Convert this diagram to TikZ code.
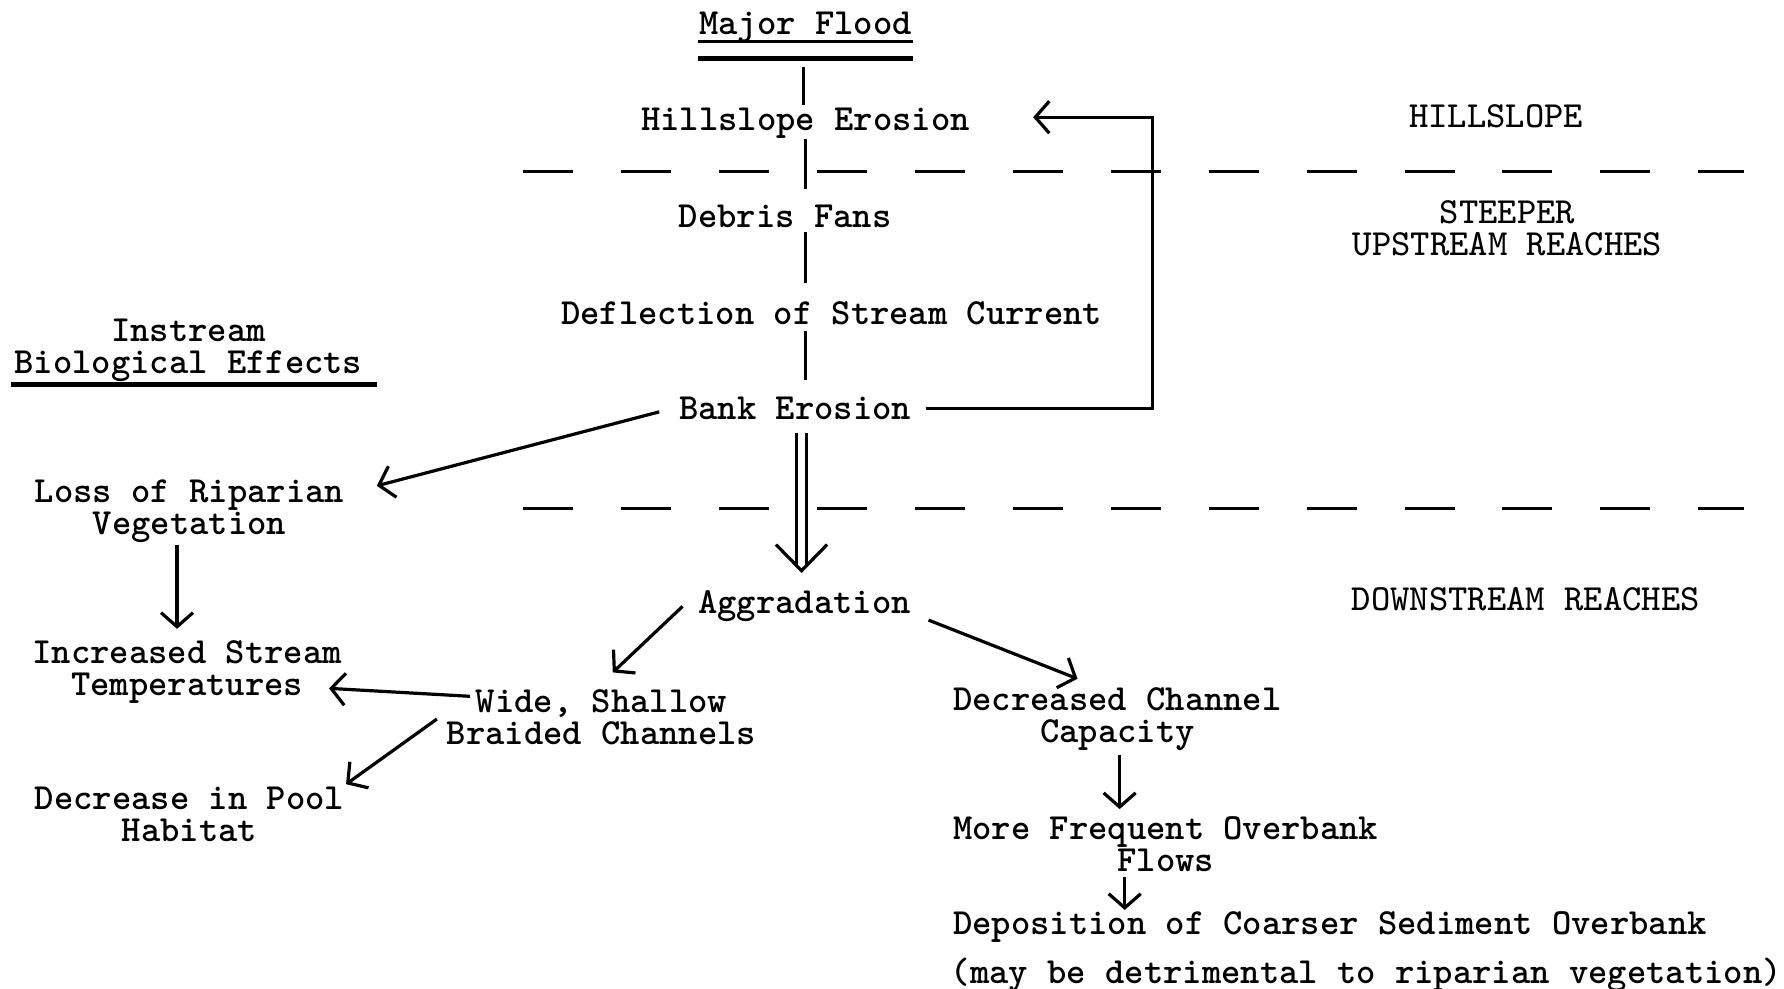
\documentclass[tikz,border=0pt]{standalone}
\usepackage{tikz}
\usetikzlibrary{calc,arrows.meta}

\begin{document}
\begin{tikzpicture}[x=0.01cm, y=-0.01cm,
  txt/.style={inner sep=0pt, align=center, font={\ttfamily\bfseries\fontsize{9.2pt}{8pt}\selectfont}},
  zone/.style={inner sep=0pt, align=center, font={\ttfamily\fontsize{9.2pt}{8pt}\selectfont}},
  arrow/.style={-{Straight Barb[length=3.5pt,width=8pt]}, thick},
  link/.style={thick},
  cut/.style={thick, dash pattern=on 0.44cm off 0.42cm}
]
\useasboundingbox (0,0) rectangle (1568,869);
\coordinate (spine) at (708,0);

\node[txt] (maj) at (708,24) {Major Flood};
\node[txt] (hill) at (708,108) {Hillslope Erosion};
\node[txt] (debris) at (690,190) {Debris Fans};
\node[txt] (defl) at (731,275) {Deflection of Stream Current};
\node[txt] (bank) at (699,359) {Bank Erosion};
\node[txt] (aggr) at (707,533) {Aggradation};
\node[txt,anchor=west] (bio) at (12,308) {Instream\\Biological Effects};
\node[txt,anchor=west] (loss) at (30,449) {Loss of Riparian\\Vegetation};
\node[txt,anchor=west] (incr) at (28,591) {Increased Stream\\Temperatures};
\node[txt,anchor=west] (pool) at (30,716) {Decrease in Pool\\Habitat};
\node[txt,anchor=west] (wide) at (392,630) {Wide, Shallow\\Braided Channels};
\node[txt,anchor=west] (decr) at (837,632) {Decreased Channel\\Capacity};
\node[txt,anchor=west] (more) at (837,742) {More Frequent Overbank\\Flows};
\node[txt,anchor=west] (depo) at (837,815) {Deposition of Coarser Sediment Overbank};
\node[txt,anchor=west] (note) at (835,857) {(may be detrimental to riparian vegetation)};
\node[zone] (hslope) at (1315,102) {HILLSLOPE};
\node[zone] (upper) at (1325,201) {STEEPER\\UPSTREAM REACHES};
\node[zone] (lower) at (1341,527) {DOWNSTREAM REACHES};

\draw[cut] (460,151) -- (1533,151);
\draw[cut] (460,447) -- (1533,447);

\draw[thick] ($(maj.south west)+(0,-2)$) -- ($(maj.south east)+(0,-2)$);
\draw[very thick] ($(maj.south west)+(0,13)$) -- ($(maj.south east)+(0,13)$);
\draw[very thick] ($(bio.south west)+(-2,2)$) -- ($(bio.south east)+(12,2)$);

\draw[link] ($(maj.south)+(-2,21)$) -- ($(hill.north)+(-2,-2)$);
\draw[link] (hill.south -| spine) -- ($(debris.north -| spine)+(0,-13)$);
\draw[link] ($(debris.south -| spine)+(0,3)$) -- ($(defl.north -| spine)+(0,-15)$);
\draw[link] ($(defl.south -| spine)+(0,5)$) -- ($(bank.north -| spine)+(0,-14)$);
\draw[arrow] ($(bank.east)+(12,0)$) -| ($(hill.east)+(160,-5)$) -- ($(hill.east)+(55,-5)$);

\draw[link] ($(bank.south -| spine)+(-8,11)$) -- ($(aggr.north -| spine)+(-8,-22)$);
\draw[link] ($(bank.south -| spine)+(1,11)$) -- ($(aggr.north -| spine)+(1,-22)$);
\draw[link] ($(aggr.north -| spine)+(-26,-40)$) -- ($(aggr.north -| spine)+(-3.5,-17)$) -- ($(aggr.north -| spine)+(19,-40)$);

\draw[arrow] ($(bank.west)+(-17,3)$) -- ($(loss.east)+(28,-22)$);
\draw[arrow] ($(loss.south)+(-11,2)$) -- ($(incr.north)+(-9,-10)$);
\draw[arrow] ($(aggr.west)+(-13,0)$) -- ($(wide.north)+(10,-14)$);
\draw[arrow] ($(aggr.east)+(15,12)$) -- ($(decr.north)+(-35,-7)$);
\draw[arrow] ($(wide.west)+(21,-18)$) -- ($(incr.east)+(-12,14)$);
\draw[arrow] ($(wide.west)+(-8,2)$) -- ($(pool.north east)+(1,-2)$);
\draw[arrow] ($(decr.south)+(2,3)$) -- ($(decr.south |- more.north)+(2,-6)$);
\draw[arrow] ($(more.south)+(-36,4)$) -- ($(more.south |- depo.north)+(-36,-1)$);
\end{tikzpicture}
\end{document}
